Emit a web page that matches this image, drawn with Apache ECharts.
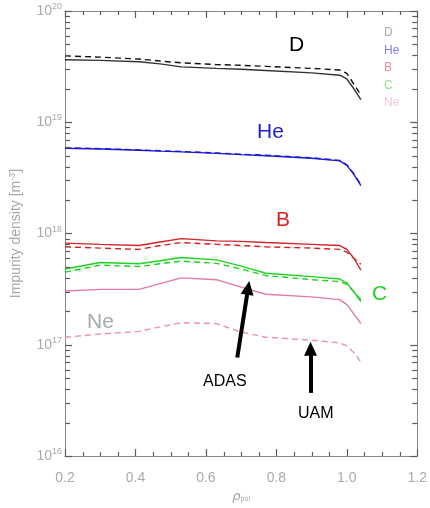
<!DOCTYPE html>
<html>
<head>
<meta charset="utf-8">
<script src="https://cdn.jsdelivr.net/npm/echarts@6/dist/echarts.min.js"></script>
<style>
  html, body { margin: 0; padding: 0; background: #fff; }
  #chart { width: 430px; height: 508px; }
</style>
</head>
<body>
<div id="chart"></div>
<script>
// rho_pol sample points shared by all profiles
const rho = [0.20, 0.30, 0.41, 0.47, 0.53, 0.63, 0.70, 0.77, 0.90, 0.98, 1.00, 1.02, 1.04];

// ADAS (solid) and UAM (dashed) densities, m^-3
const dAdas  = [3.65e19, 3.6e19, 3.5e19, 3.35e19, 3.15e19, 3.05e19, 3.0e19, 2.92e19, 2.78e19, 2.65e19, 2.45e19, 2.0e19, 1.6e19];
const dUam   = [3.95e19, 3.85e19, 3.7e19, 3.55e19, 3.42e19, 3.3e19, 3.25e19, 3.18e19, 3.05e19, 2.95e19, 2.75e19, 2.2e19, 1.75e19];
const heAdas = [5.85e18, 5.75e18, 5.6e18, 5.5e18, 5.42e18, 5.25e18, 5.12e18, 5.0e18, 4.75e18, 4.5e18, 4.1e18, 3.4e18, 2.7e18];
const heUam  = [5.9e18, 5.8e18, 5.65e18, 5.55e18, 5.47e18, 5.3e18, 5.17e18, 5.05e18, 4.8e18, 4.55e18, 4.15e18, 3.45e18, 2.75e18];
const bAdas  = [8.2e17, 8.0e17, 7.8e17, 8.4e17, 9.0e17, 8.6e17, 8.5e17, 8.3e17, 8.0e17, 7.8e17, 7.2e17, 6.0e17, 4.7e17];
const bUam   = [7.6e17, 7.4e17, 7.2e17, 7.8e17, 8.3e17, 8.0e17, 7.8e17, 7.6e17, 7.4e17, 7.2e17, 6.8e17, 6.0e17, 5.3e17];
const cAdas  = [4.8e17, 5.5e17, 5.35e17, 5.7e17, 6.1e17, 5.8e17, 5.1e17, 4.4e17, 4.1e17, 3.9e17, 3.6e17, 3.0e17, 2.45e17];
const cUam   = [4.5e17, 5.2e17, 5.05e17, 5.35e17, 5.65e17, 5.4e17, 4.8e17, 4.2e17, 3.85e17, 3.7e17, 3.5e17, 3.0e17, 2.55e17];
const neAdas = [3.05e17, 3.15e17, 3.15e17, 3.55e17, 4.0e17, 3.85e17, 3.3e17, 2.85e17, 2.7e17, 2.55e17, 2.3e17, 1.9e17, 1.55e17];
const neUam  = [1.17e17, 1.25e17, 1.32e17, 1.45e17, 1.58e17, 1.55e17, 1.3e17, 1.17e17, 1.1e17, 1.04e17, 0.98e17, 0.85e17, 0.7e17];

const decades = [16, 17, 18, 19, 20];

const species = ['D', 'He', 'B', 'C', 'Ne'];
const colors = ['#333333', '#1c1ccf', '#d42424', '#22d022', '#e27aae'];
const dashColors = ['#111111', '#1c1ccf', '#d42424', '#22d022', '#ea8fbe'];
const legendColors = ['#aaaaaa', '#7c7cf0', '#f08c8c', '#8ee08e', '#f5c4da'];
const adas = [dAdas, heAdas, bAdas, cAdas, neAdas];
const uam = [dUam, heUam, bUam, cUam, neUam];

// minor log ticks 2..9 in each decade
const minorVals = [];
decades.slice(0, -1).forEach(function (e) {
  for (let k = 2; k <= 9; k++) minorVals.push([0.2, k * Math.pow(10, e)]);
});
// x ticks every 0.05, major every 0.2
const xTickVals = [];
for (let i = 0; i <= 20; i++) xTickVals.push([+(0.2 + 0.05 * i).toFixed(2), 1e16, i % 4 === 0 ? 1 : 0]);

const pair = (ys) => ys.map((v, i) => [rho[i], v]);

const chart = echarts.init(document.getElementById('chart'));

const series = [];
species.forEach(function (s, i) {
  series.push({
    name: s + ' ADAS', type: 'line', data: pair(adas[i]), showSymbol: false,
    lineStyle: { color: colors[i], width: 1.4 }, z: 3
  });
  series.push({
    name: s + ' UAM', type: 'line', data: pair(uam[i]), showSymbol: false,
    lineStyle: { color: dashColors[i], width: 1.4, type: [6, 4] }, z: 3
  });
});

const tickColor = '#5a5a5a';

series.push({
  type: 'custom',
  data: minorVals,
  silent: true,
  z: 5,
  renderItem: function (params, api) {
    const p = api.coord([api.value(0), api.value(1)]);
    const cs = params.coordSys;
    const y = Math.round(p[1]) + 0.5;
    const st = { stroke: tickColor, lineWidth: 1.2 };
    return {
      type: 'group',
      children: [
        { type: 'line', shape: { x1: cs.x, y1: y, x2: cs.x + 5, y2: y }, style: st },
        { type: 'line', shape: { x1: cs.x + cs.width, y1: y, x2: cs.x + cs.width - 5, y2: y }, style: st }
      ]
    };
  }
});

// x ticks on bottom and top edges
series.push({
  type: 'custom',
  data: xTickVals,
  silent: true,
  z: 5,
  renderItem: function (params, api) {
    const p = api.coord([api.value(0), api.value(1)]);
    const cs = params.coordSys;
    const len = api.value(2) ? 7 : 4;
    const x = Math.round(p[0]) + 0.5;
    const st = { stroke: tickColor, lineWidth: 1.2 };
    return {
      type: 'group',
      children: [
        { type: 'line', shape: { x1: x, y1: cs.y + cs.height, x2: x, y2: cs.y + cs.height - len }, style: st },
        { type: 'line', shape: { x1: x, y1: cs.y, x2: x, y2: cs.y + len }, style: st }
      ]
    };
  }
});

// arrows pointing at ADAS and UAM curves
series.push({
  type: 'line', data: [], silent: true,
  markLine: {
    silent: true,
    symbol: ['none', 'triangle'],
    symbolSize: [13, 14],
    lineStyle: { color: '#000', width: 4, type: 'solid' },
    label: { show: false },
    data: [
      [{ coord: [0.689, 7.7e16] }, { coord: [0.72, 3.25e17] }],
      [{ coord: [0.897, 3.7e16] }, { coord: [0.897, 9.2e16] }]
    ]
  }
});

const tickLabelStyle = { color: '#aaaaaa', fontSize: 14, fontFamily: 'Liberation Sans' };
function majorTick() { return { show: true, inside: true, length: 7, lineStyle: { color: tickColor, width: 1.2 } }; }
function axisLine() { return { show: true, onZero: false, lineStyle: { color: '#888', width: 1 } }; }

chart.setOption({
  animation: false,
  grid: { left: 63, right: 11, top: 11, bottom: 40 },
  xAxis: [{
    type: 'value', min: 0.2, max: 1.2, interval: 0.2,
    axisLine: axisLine(), axisTick: { show: false },
    splitLine: { show: false },
    axisLabel: Object.assign({ margin: 15, formatter: (v) => v.toFixed(1) }, tickLabelStyle),
    name: '{r|ρ}{s|pol}', nameLocation: 'middle', nameGap: 28,
    nameTextStyle: {
      rich: {
        r: { fontSize: 13, fontStyle: 'italic', color: '#a0a0a0', fontFamily: 'DejaVu Sans' },
        s: { fontSize: 7, color: '#a0a0a0', padding: [6, 0, 0, 0], fontFamily: 'Liberation Sans' }
      }
    }
  }, {
    type: 'value', position: 'top', min: 0.2, max: 1.2, interval: 0.2,
    axisLine: axisLine(), axisTick: { show: false },
    splitLine: { show: false }, axisLabel: { show: false }
  }],
  yAxis: [{
    type: 'log', logBase: 10, min: 1e16, max: 1e20,
    axisLine: axisLine(), axisTick: majorTick(),
    splitLine: { show: false },
    axisLabel: {
      margin: 3,
      formatter: (v) => '{b|10}{e|' + Math.round(Math.log10(v)) + '}',
      rich: {
        b: { fontSize: 14, color: '#aaaaaa', fontFamily: 'Liberation Sans' },
        e: { fontSize: 9, color: '#aaaaaa', fontFamily: 'Liberation Sans', padding: [0, 0, 9, 0] }
      }
    },
    name: 'Impurity density [m{e|-3}]', nameLocation: 'middle', nameGap: 40,
    nameTextStyle: {
      color: '#a8a8a8', fontSize: 14, fontFamily: 'Liberation Sans',
      rich: { e: { fontSize: 9, color: '#a8a8a8', padding: [0, 0, 8, 0] } }
    }
  }, {
    type: 'log', logBase: 10, min: 1e16, max: 1e20, position: 'right',
    axisLine: axisLine(), axisTick: majorTick(),
    splitLine: { show: false }, axisLabel: { show: false }
  }],
  graphic: [
    { type: 'text', left: 289, top: 35, style: { text: 'D', fontSize: 21, fill: '#000', fontFamily: 'Liberation Sans' } },
    { type: 'text', left: 257, top: 122, style: { text: 'He', fontSize: 21, fill: '#1c1ccf', fontFamily: 'Liberation Sans' } },
    { type: 'text', left: 276, top: 210, style: { text: 'B', fontSize: 21, fill: '#e02020', fontFamily: 'Liberation Sans' } },
    { type: 'text', left: 372, top: 284, style: { text: 'C', fontSize: 21, fill: '#22d022', fontFamily: 'Liberation Sans' } },
    { type: 'text', left: 87, top: 312, style: { text: 'Ne', fontSize: 21, fill: '#a2a9b0', fontFamily: 'Liberation Sans' } },
    { type: 'text', left: 203, top: 374, style: { text: 'ADAS', fontSize: 16, fill: '#000', fontFamily: 'Liberation Sans' } },
    { type: 'text', left: 298, top: 406, style: { text: 'UAM', fontSize: 16, fill: '#000', fontFamily: 'Liberation Sans' } }
  ].concat(species.map(function (s, i) {
    return { type: 'text', left: 384, top: 27 + i * 17.5,
      style: { text: s, fontSize: 12, fill: legendColors[i], fontFamily: 'Liberation Sans' } };
  })),
  series: series
});
</script>
</body>
</html>
